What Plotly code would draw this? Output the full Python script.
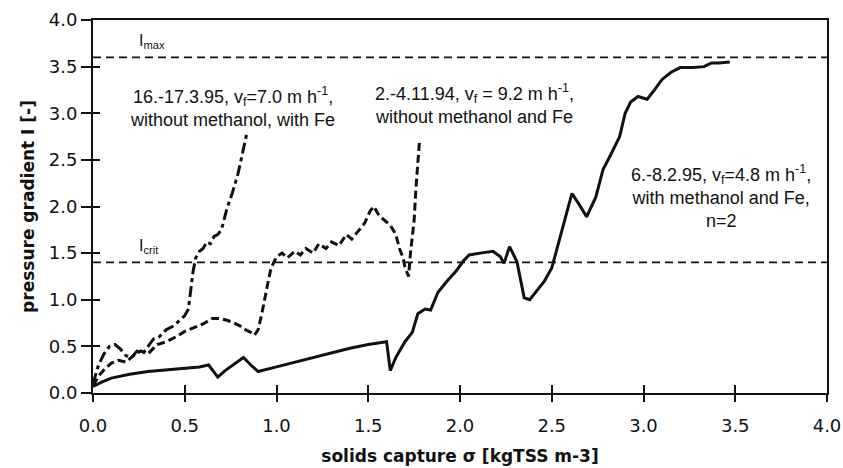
import plotly.graph_objects as go

# ---- data ----
# 16.-17.3.95, vf=7.0 m/h, without methanol, with Fe
s1_x = [0.0, 0.03, 0.06, 0.09, 0.12, 0.15, 0.18, 0.21, 0.24, 0.27, 0.30, 0.33, 0.36, 0.40, 0.44,
        0.47, 0.50, 0.52, 0.53, 0.545, 0.56, 0.58, 0.60, 0.62, 0.64, 0.66, 0.68, 0.70, 0.73, 0.76,
        0.79, 0.82, 0.84]
s1_y = [0.10, 0.30, 0.42, 0.50, 0.52, 0.47, 0.40, 0.38, 0.45, 0.42, 0.50, 0.58, 0.60, 0.68, 0.72,
        0.78, 0.83, 0.90, 1.05, 1.30, 1.45, 1.52, 1.55, 1.62, 1.60, 1.68, 1.70, 1.75, 1.98, 2.15,
        2.35, 2.60, 2.80]

# 2.-4.11.94, vf=9.2 m/h, without methanol and Fe
s2_x = [0.0, 0.03, 0.06, 0.10, 0.14, 0.18, 0.22, 0.26, 0.30, 0.35, 0.40, 0.45, 0.50, 0.55, 0.60,
        0.65, 0.69, 0.73, 0.76, 0.80, 0.83, 0.86, 0.88, 0.90, 0.92, 0.95, 0.97, 1.00, 1.03, 1.06,
        1.10, 1.13, 1.16, 1.20, 1.23, 1.27, 1.30, 1.34, 1.38, 1.41, 1.45, 1.48, 1.51, 1.53, 1.56,
        1.59, 1.62, 1.65, 1.67, 1.69, 1.70, 1.72, 1.73, 1.75, 1.76, 1.78]
s2_y = [0.08, 0.18, 0.25, 0.32, 0.35, 0.33, 0.40, 0.45, 0.42, 0.52, 0.55, 0.60, 0.66, 0.70, 0.74,
        0.80, 0.80, 0.78, 0.76, 0.72, 0.68, 0.65, 0.62, 0.68, 0.85, 1.15, 1.34, 1.46, 1.50, 1.45,
        1.52, 1.48, 1.55, 1.50, 1.60, 1.55, 1.62, 1.58, 1.70, 1.65, 1.75, 1.82, 1.95, 2.00, 1.90,
        1.85, 1.80, 1.70, 1.55, 1.45, 1.35, 1.25, 1.50, 1.85, 2.20, 2.72]

# 6.-8.2.95, vf=4.8 m/h, with methanol and Fe, n=2
s3_x = [0.0, 0.05, 0.10, 0.20, 0.30, 0.40, 0.50, 0.58, 0.63, 0.66, 0.68, 0.72, 0.78, 0.82, 0.86,
        0.90, 1.00, 1.10, 1.20, 1.30, 1.40, 1.50, 1.58, 1.60, 1.62, 1.65, 1.70, 1.74, 1.77, 1.81,
        1.84, 1.88, 1.93, 1.98, 2.02, 2.05, 2.11, 2.18, 2.22, 2.24, 2.27, 2.31, 2.35, 2.38, 2.42,
        2.46, 2.50, 2.54, 2.58, 2.61, 2.65, 2.69, 2.74, 2.78, 2.82, 2.87, 2.90, 2.93, 2.97, 3.02,
        3.06, 3.10, 3.15, 3.20, 3.27, 3.33, 3.37, 3.41, 3.47]
s3_y = [0.07, 0.12, 0.16, 0.20, 0.23, 0.25, 0.27, 0.28, 0.30, 0.22, 0.17, 0.24, 0.33, 0.38, 0.30,
        0.23, 0.28, 0.33, 0.38, 0.43, 0.48, 0.52, 0.55, 0.55, 0.24, 0.38, 0.55, 0.65, 0.85, 0.90,
        0.89, 1.08, 1.20, 1.31, 1.42, 1.48, 1.50, 1.52, 1.46, 1.39, 1.57, 1.41, 1.02, 1.00, 1.10,
        1.20, 1.34, 1.63, 1.95, 2.14, 2.02, 1.89, 2.10, 2.40, 2.55, 2.75, 3.00, 3.12, 3.18, 3.15,
        3.25, 3.36, 3.44, 3.49, 3.49, 3.50, 3.54, 3.54, 3.55]

ref_levels = [3.6, 1.4]
ref_labels = ["I<sub>max</sub>", "I<sub>crit</sub>"]

x_ticks = [0.0, 0.5, 1.0, 1.5, 2.0, 2.5, 3.0, 3.5, 4.0]
y_ticks = [0.0, 0.5, 1.0, 1.5, 2.0, 2.5, 3.0, 3.5, 4.0]

label1 = "16.-17.3.95, v<sub>f</sub>=7.0 m h<sup>-1</sup>,<br>without methanol, with Fe"
label2 = "2.-4.11.94, v<sub>f</sub> = 9.2 m h<sup>-1</sup>,<br>without methanol and Fe"
label3 = "6.-8.2.95, v<sub>f</sub>=4.8 m h<sup>-1</sup>,<br>with methanol and Fe,<br>n=2"

INK = "#111111"
ANN_FONT = dict(family="Liberation Sans, Arial, sans-serif", size=18, color=INK)
TICK_FONT = dict(family="DejaVu Sans, sans-serif", size=18, color=INK)
TITLE_FONT = dict(family="DejaVu Sans, sans-serif", size=17, color=INK, weight="bold")

fig = go.Figure()
fig.add_trace(go.Scatter(x=s1_x, y=s1_y, mode="lines", showlegend=False,
                         line=dict(color=INK, width=3, dash="11px,4px,4px,4px")))
fig.add_trace(go.Scatter(x=s2_x, y=s2_y, mode="lines", showlegend=False,
                         line=dict(color=INK, width=3, dash="8px,4px")))
fig.add_trace(go.Scatter(x=s3_x, y=s3_y, mode="lines", showlegend=False,
                         line=dict(color=INK, width=3)))
# helper trace for inside-tick overlay axes
fig.add_trace(go.Scatter(x=[x_ticks[0]], y=[y_ticks[0]], xaxis="x2", yaxis="y2",
                         mode="markers", marker=dict(opacity=0), showlegend=False,
                         hoverinfo="skip"))

for lvl, lab in zip(ref_levels, ref_labels):
    fig.add_shape(type="line", xref="x", yref="y", x0=x_ticks[0], x1=x_ticks[-1], y0=lvl, y1=lvl,
                  line=dict(color=INK, width=1.8, dash="8px,5px"))
    fig.add_annotation(x=0.24, y=lvl, xref="x", yref="y", text=lab, showarrow=False,
                       xanchor="left", yanchor="bottom", yshift=4,
                       font=dict(family="Liberation Sans, Arial, sans-serif", size=16, color=INK))

fig.add_annotation(x=0.76, y=3.07, text=label1, showarrow=False, font=ANN_FONT,
                   xanchor="center", yanchor="middle")
fig.add_annotation(x=2.08, y=3.10, text=label2, showarrow=False, font=ANN_FONT,
                   xanchor="center", yanchor="middle")
fig.add_annotation(x=3.42, y=2.11, text=label3, showarrow=False, font=ANN_FONT,
                   xanchor="center", yanchor="middle")

fig.update_layout(
    width=843, height=468,
    margin=dict(l=93, r=16, t=20, b=75, autoexpand=False),
    paper_bgcolor="white", plot_bgcolor="white",
    xaxis=dict(range=[0, 4], tickvals=x_ticks, tickformat=".1f", showgrid=False, zeroline=False,
               automargin=False,
               showline=True, mirror=True, linecolor=INK, linewidth=2,
               ticks="outside", ticklen=7, tickwidth=1.5, tickcolor=INK, tickfont=TICK_FONT,
               ticklabelstandoff=8,
               title=dict(text="solids capture σ [kgTSS m-3]", font=TITLE_FONT, standoff=16)),
    yaxis=dict(range=[0, 4], tickvals=y_ticks, tickformat=".1f", showgrid=False, zeroline=False,
               automargin=False,
               showline=True, mirror=True, linecolor=INK, linewidth=2,
               ticks="outside", ticklen=10, tickwidth=1.5, tickcolor=INK, tickfont=TICK_FONT,
               title=dict(text="pressure gradient I [-]", font=TITLE_FONT, standoff=10)),
    xaxis2=dict(range=[0, 4], tickvals=x_ticks, overlaying="x", side="bottom", showgrid=False,
                zeroline=False, showline=False, showticklabels=False, automargin=False,
                ticks="inside", ticklen=8, tickwidth=1.5, tickcolor=INK),
    yaxis2=dict(range=[0, 4], tickvals=y_ticks, overlaying="y", side="left", showgrid=False,
                zeroline=False, showline=False, showticklabels=False, automargin=False,
                ticks="inside", ticklen=7, tickwidth=1.5, tickcolor=INK),
)

fig.write_html("out.html")
